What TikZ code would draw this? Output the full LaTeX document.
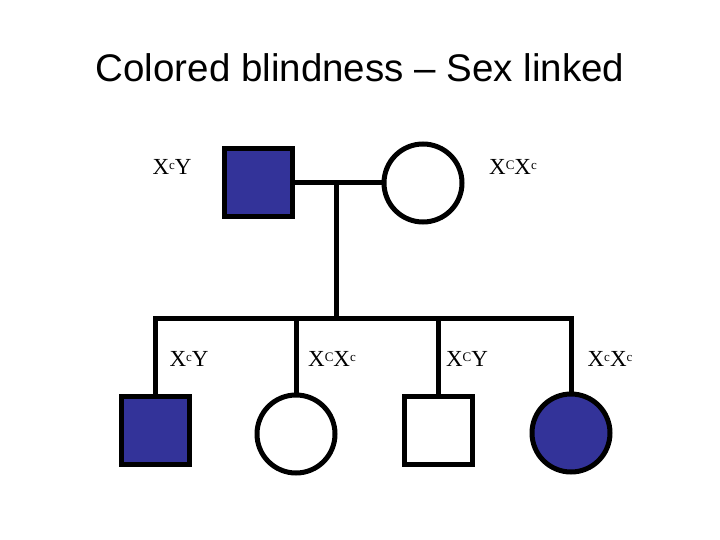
\documentclass[tikz,border=0pt]{standalone}
\usepackage{fontspec}
\setmainfont{Liberation Serif}
\newfontfamily\titlefont{Liberation Sans}
\definecolor{affected}{HTML}{333399}
\tikzset{
  male/.style={draw, line width=5pt, minimum size=68pt, inner sep=0pt},
  female/.style={circle, draw, line width=5pt, minimum size=78pt, inner sep=0pt},
  line/.style={line width=5pt},
  geno/.style={font=\fontsize{23}{26}\selectfont}
}
\newcommand{\gt}[3]{X\raisebox{0.45ex}{\fontsize{13}{14}\selectfont #1}#2\raisebox{0.45ex}{\fontsize{13}{14}\selectfont #3}}
\begin{document}
\begin{tikzpicture}[x=1pt,y=-1pt]
  \useasboundingbox (0,0) rectangle (720,540);
  % title
  \node[font=\titlefont\fontsize{38.5}{42}\selectfont] (title) at (360,68) {Colored blindness – Sex linked};
  % parents
  \node[male, fill=affected] (father) at (258,183) {};
  \node[female] (mother) at (423,183) {};
  \node[geno] (gfather) at (172,167) {\gt{c}{Y}{}};
  \node[geno] (gmother) at (513,167) {\gt{C}{X}{c}};
  \coordinate (mid) at (336,181);
  \coordinate (hub) at (336,318);
  \draw[line] (father) -- (mother);
  \draw[line] (mid) -- (hub);
  % children
  \node[male, fill=affected] (son1) at (155,430) {};
  \node[female] (dau1) at (296,434) {};
  \node[male] (son2) at (438,430) {};
  \node[female, fill=affected] (dau2) at (571,433) {};
  \coordinate (left) at (155,318);
  \coordinate (right) at (571,318);
  \draw[line] (son1.north) -- (left) -- (right) -- (dau2.north);
  \foreach \c in {dau1,son2} {
    \draw[line] (\c.north) -- (\c.north |- hub);
  }
  % child genotypes
  \node[geno] (gson1) at (189,359) {\gt{c}{Y}{}};
  \node[geno] (gdau1) at (332,359) {\gt{C}{X}{c}};
  \node[geno] (gson2) at (467,359) {\gt{C}{Y}{}};
  \node[geno] (gdau2) at (610,359) {\gt{c}{X}{c}};
\end{tikzpicture}
\end{document}
